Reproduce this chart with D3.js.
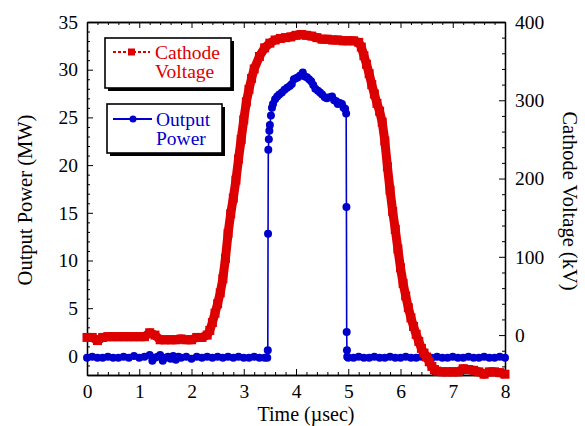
<!DOCTYPE html>
<html><head><meta charset="utf-8">
<script src="https://cdn.jsdelivr.net/npm/d3@7"></script>
<style>body{margin:0;background:#fff}svg{display:block}text{font-family:'Liberation Serif','Times New Roman',serif}</style>
</head><body><svg id="c" width="585" height="426"></svg>
<script>
// ---- data ----
const voltageTime = [0,0.1,0.2,0.3,0.4,0.5,0.6,0.7,0.8,0.9,1.0,1.1,1.2,1.3,1.4,1.5,1.6,1.7,1.8,1.9,2.0,2.1,2.2,2.3,2.35,2.4,2.45,2.5,2.55,2.6,2.65,2.7,2.75,2.8,2.85,2.9,2.95,3.0,3.05,3.1,3.15,3.2,3.3,3.4,3.5,3.6,3.7,3.8,3.9,4.0,4.1,4.2,4.3,4.4,4.5,4.6,4.7,4.8,4.9,5.0,5.1,5.2,5.25,5.3,5.35,5.4,5.45,5.5,5.55,5.6,5.65,5.7,5.75,5.8,5.85,5.9,5.95,6.0,6.05,6.1,6.15,6.2,6.25,6.3,6.35,6.4,6.45,6.5,6.55,6.6,6.65,6.7,6.8,6.9,7.0,7.1,7.2,7.3,7.4,7.5,7.6,7.7,7.8,7.9,8.0];
const voltageKV = [-3,-3,-7,-3,-2,-2,-2,-2,-2,-2,-2,-2,3,0,-6,-6,-6,-6,-5,-6,-6,-3,-3,0,6,16,28,40,54,72,98,130,155,175,198,225,250,275,298,314,328,340,356,367,373,377,379,380,381,383,384,383,382,380,378,378,377,377,376,376,376,374,368,357,346,334,320,308,296,286,272,248,215,185,158,135,110,86,66,50,35,22,11,1,-8,-17,-23,-28,-34,-40,-44,-46,-47,-47,-47,-47,-43,-44,-45,-47,-50,-47,-47,-48,-50];

const powerTime = [0,0.1,0.2,0.3,0.4,0.5,0.6,0.7,0.8,0.9,1.0,1.1,1.2,1.25,1.3,1.35,1.4,1.45,1.5,1.55,1.6,1.65,1.7,1.75,1.8,1.9,2.0,2.1,2.2,2.3,2.4,2.5,2.6,2.7,2.8,2.9,3.0,3.1,3.2,3.3,3.4,
  3.45,3.46,3.465,3.47,3.48,3.49,3.5,3.52,3.54,3.56,3.6,3.64,3.68,3.73,3.78,3.83,3.88,3.92,3.96,4.0,4.04,4.08,4.13,4.17,4.21,4.25,4.29,4.33,4.37,4.42,4.46,4.5,4.55,4.59,4.64,4.69,4.73,4.77,4.8,4.84,4.88,4.91,4.94,4.96,
  4.965,4.97,4.975,4.98,5.0,5.1,5.2,5.3,5.4,5.5,5.6,5.7,5.8,5.9,6.0,6.1,6.2,6.3,6.4,6.5,6.6,6.7,6.8,6.9,7.0,7.1,7.2,7.3,7.4,7.5,7.6,7.7,7.8,7.9,8.0];
const powerMW = [-0.2,-0.1,-0.2,-0.2,-0.1,-0.2,-0.2,-0.1,-0.2,0.0,-0.2,-0.1,0.1,-0.5,-0.2,-0.1,0.1,-0.5,-0.2,-0.1,-0.3,0.0,-0.4,-0.1,-0.2,-0.1,-0.3,-0.1,-0.2,-0.1,-0.2,-0.1,-0.2,-0.1,-0.2,-0.1,-0.2,-0.2,-0.1,-0.2,-0.2,
  -0.2,0.6,12.8,21.6,22.7,23.6,24.2,25.2,26.0,26.4,26.9,27.2,27.4,27.6,27.9,28.1,28.3,28.5,29.0,29.1,29.2,29.4,29.7,29.3,29.2,29.0,28.8,28.4,28.0,27.8,27.6,27.4,27.1,27.0,27.1,27.2,26.8,26.7,26.4,26.5,26.4,26.0,25.9,25.4,
  15.6,2.5,0.6,-0.1,-0.2,-0.2,-0.1,-0.2,-0.2,-0.1,-0.2,-0.2,-0.1,-0.2,-0.2,-0.1,-0.2,-0.2,-0.1,-0.2,-0.2,-0.1,-0.2,-0.2,-0.1,-0.2,-0.2,-0.1,-0.2,-0.2,-0.1,-0.2,-0.2,-0.1,-0.2];

const xTicks = [0,1,2,3,4,5,6,7,8];
const leftTicks = [0,5,10,15,20,25,30,35];
const rightTicks = [0,100,200,300,400];
const legendLabels = [["Cathode","Voltage"],["Output","Power"]];
const axisTitles = {x:"Time (\u00B5sec)", left:"Output Power (MW)", right:"Cathode Voltage (kV)"};

// ---- chart ----
const RED = "#dd0000", BLUE = "#0000cc";
const svg = d3.select("#c");
const x = d3.scaleLinear([0,8],[87,505]);
const yL = d3.scaleLinear([-2,35],[375,22]);
const yR = d3.scaleLinear([-51,400],[375,22]);

const minorX = d3.range(0,8.001,0.2).filter(v=>Math.abs(v-Math.round(v))>1e-6);
const minorL = d3.range(-2,35.5,1).filter(v=>v%5!==0);
const minorR = d3.range(-40,401,20).filter(v=>v%100!==0);

function styleAxis(g){
  g.selectAll("path.domain").attr("stroke","#000").attr("stroke-width",1.3);
  g.selectAll(".tick line").attr("stroke","#000").attr("stroke-width",1);
  g.selectAll("text").attr("font-size",19.5).attr("fill","#000").attr("font-family","'Liberation Serif',serif");
}
// bottom
svg.append("g").attr("transform","translate(0,375)").call(d3.axisBottom(x).tickValues(xTicks).tickSize(-6).tickSizeOuter(0).tickPadding(9).tickFormat(d3.format("d"))).call(styleAxis);
svg.append("g").attr("transform","translate(0,375)").call(d3.axisBottom(x).tickValues(minorX).tickSize(-3).tickSizeOuter(0).tickFormat("")).call(styleAxis);
// top
svg.append("g").attr("transform","translate(0,22)").call(d3.axisTop(x).tickValues(xTicks).tickSize(-6).tickSizeOuter(0).tickFormat("")).call(styleAxis);
svg.append("g").attr("transform","translate(0,22)").call(d3.axisTop(x).tickValues(minorX).tickSize(-3).tickSizeOuter(0).tickFormat("")).call(styleAxis);
// left
svg.append("g").attr("transform","translate(87,0)").call(d3.axisLeft(yL).tickValues(leftTicks).tickSize(-6).tickSizeOuter(0).tickPadding(9).tickFormat(d3.format("d"))).call(styleAxis);
svg.append("g").attr("transform","translate(87,0)").call(d3.axisLeft(yL).tickValues(minorL).tickSize(-3).tickSizeOuter(0).tickFormat("")).call(styleAxis);
// right
svg.append("g").attr("transform","translate(505,0)").call(d3.axisRight(yR).tickValues(rightTicks).tickSize(-6).tickSizeOuter(0).tickPadding(10).tickFormat(d3.format("d"))).call(styleAxis);
svg.append("g").attr("transform","translate(505,0)").call(d3.axisRight(yR).tickValues(minorR).tickSize(-3).tickSizeOuter(0).tickFormat("")).call(styleAxis);

// power series (blue)
const pData = powerTime.map((t,i)=>[t,powerMW[i]]);
svg.append("path").datum(pData).attr("fill","none").attr("stroke",BLUE).attr("stroke-width",1.6)
  .attr("d",d3.line().x(d=>x(d[0])).y(d=>yL(d[1])));
svg.append("g").selectAll("circle").data(pData).join("circle")
  .attr("cx",d=>x(d[0])).attr("cy",d=>yL(d[1])).attr("r",4).attr("fill",BLUE);

// voltage series (red)
const vData = voltageTime.map((t,i)=>[t,voltageKV[i]]);
svg.append("path").datum(vData).attr("fill","none").attr("stroke",RED).attr("stroke-width",9).attr("stroke-linejoin","round")
  .attr("d",d3.line().x(d=>x(d[0])).y(d=>yR(d[1])));
svg.append("g").selectAll("rect").data(vData).join("rect")
  .attr("x",d=>x(d[0])-4.5).attr("y",d=>yR(d[1])-4.5).attr("width",9).attr("height",9).attr("fill",RED);

// legend
function legendBox(x0,y0,w,h){
  svg.append("rect").attr("x",x0+3).attr("y",y0+3).attr("width",w).attr("height",h).attr("fill","#000");
  svg.append("rect").attr("x",x0).attr("y",y0).attr("width",w).attr("height",h).attr("fill","#fff").attr("stroke","#000").attr("stroke-width",1.6);
}
legendBox(105,38,126,50);
svg.append("line").attr("x1",113).attr("x2",150).attr("y1",52).attr("y2",52).attr("stroke",RED).attr("stroke-width",2).attr("stroke-dasharray","3,2");
svg.append("rect").attr("x",128).attr("y",48.5).attr("width",7).attr("height",7).attr("fill",RED);
const t1 = svg.append("text").attr("x",155).attr("y",59).attr("font-size",19.5).attr("fill",RED);
t1.append("tspan").attr("x",155).text(legendLabels[0][0]);
t1.append("tspan").attr("x",155).attr("dy",19).text(legendLabels[0][1]);

legendBox(107,104,115,49);
svg.append("line").attr("x1",113).attr("x2",152).attr("y1",119).attr("y2",119).attr("stroke",BLUE).attr("stroke-width",2);
svg.append("circle").attr("cx",133).attr("cy",119).attr("r",3.5).attr("fill",BLUE);
const t2 = svg.append("text").attr("x",156).attr("y",126).attr("font-size",19.5).attr("fill",BLUE);
t2.append("tspan").attr("x",156).text(legendLabels[1][0]);
t2.append("tspan").attr("x",156).attr("dy",19).text(legendLabels[1][1]);

// axis titles
svg.append("text").attr("x",306).attr("y",421).attr("text-anchor","middle").attr("font-size",20).text(axisTitles.x);
svg.append("text").attr("transform","translate(32,200) rotate(-90)").attr("text-anchor","middle").attr("font-size",20.5).text(axisTitles.left);
svg.append("text").attr("transform","translate(563,201) rotate(90)").attr("text-anchor","middle").attr("font-size",20.5).text(axisTitles.right);
</script></body></html>
